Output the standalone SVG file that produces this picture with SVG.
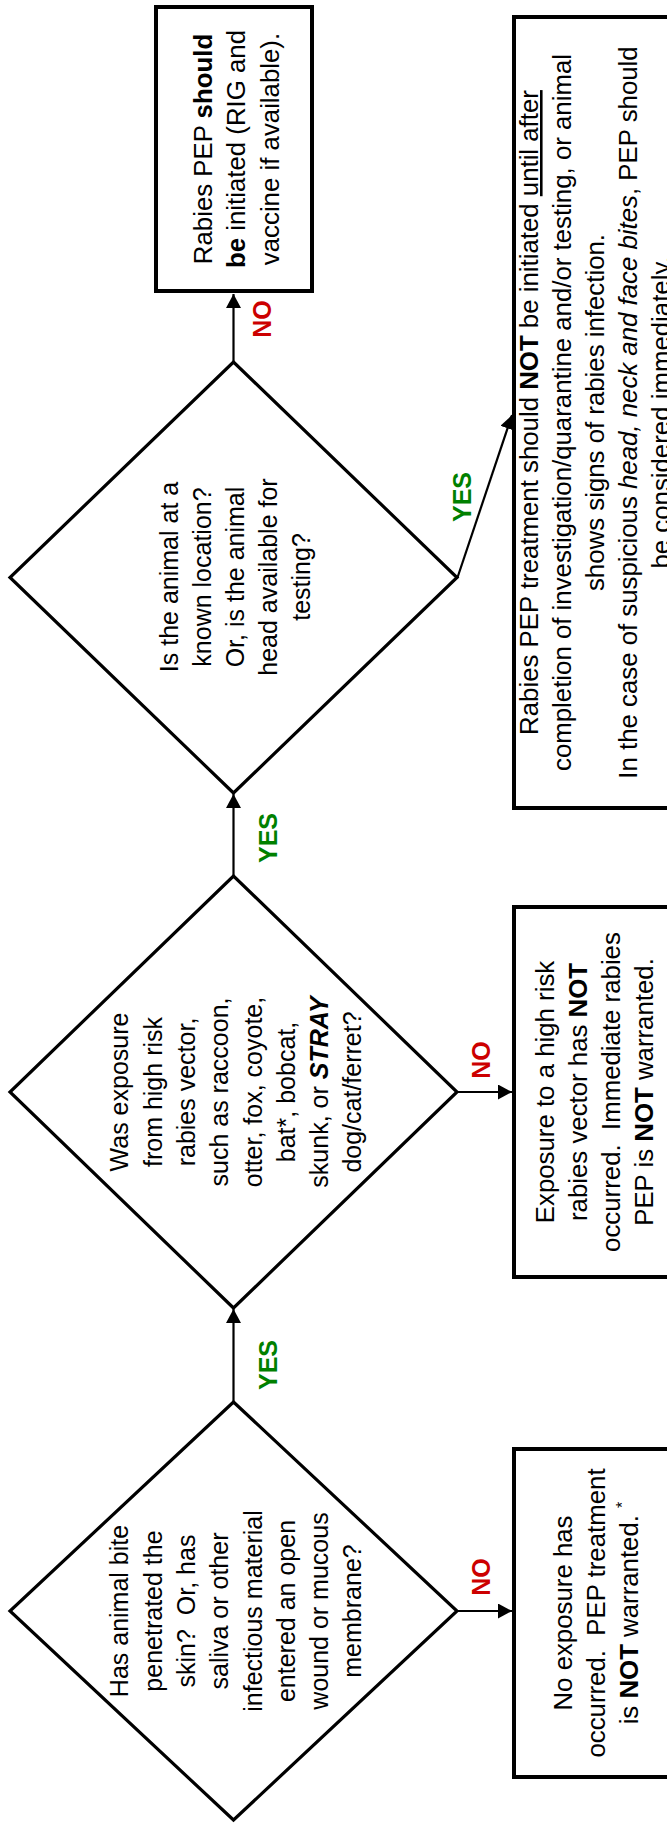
<svg xmlns="http://www.w3.org/2000/svg" width="667" height="1838" viewBox="0 0 667 1838">
<style>
text{font-family:"Liberation Sans",Arial,sans-serif;fill:#000}
.d{font-size:25px;text-anchor:middle}
.b{font-size:25.8px;text-anchor:middle}
.yes{font-size:25px;font-weight:bold;fill:#008000;text-anchor:middle}
.no{font-size:25px;font-weight:bold;fill:#cc0000;text-anchor:middle}
.bo{font-weight:bold}
.it{font-style:italic}
.dia{fill:#fff;stroke:#000;stroke-width:3.2}
.box{fill:#fff;stroke:#000;stroke-width:4}
.con{fill:none;stroke:#000;stroke-width:2.2}
</style>
<defs>
<marker id="ah" markerUnits="userSpaceOnUse" markerWidth="15" markerHeight="16" refX="14" refY="7.5" orient="auto">
<path d="M0,0 L14,7.5 L0,15 Z" fill="#000"/>
</marker>
</defs>
<rect width="667" height="1838" fill="#fff"/>
<g transform="translate(0,1838) rotate(-90)">
<g id="connectors">
<path class="con" d="M436,233.5 L529,233.5" marker-end="url(#ah)"/>
<path class="con" d="M962,233.5 L1044,233.5" marker-end="url(#ah)"/>
<path class="con" d="M1476,233.5 L1544,233.5" marker-end="url(#ah)"/>
<path class="con" d="M227,457 L227,512" marker-end="url(#ah)"/>
<path class="con" d="M746,457 L746,512" marker-end="url(#ah)"/>
<path class="con" d="M1260.5,457.5 L1423,512" marker-end="url(#ah)"/>
<text class="yes" x="473" y="276.7">YES</text>
<text class="yes" x="1000" y="276.7">YES</text>
<text class="no" x="1519" y="271">NO</text>
<text class="no" x="261" y="490">NO</text>
<text class="no" x="778" y="490">NO</text>
<text class="yes" x="1341" y="471">YES</text>
</g>
<g id="q1">
<polygon class="dia" points="18,233.5 227,10 436,233.5 227,457"/>
<text class="d" x="227" y="128.3">Has animal bite</text>
<text class="d" x="227" y="161.6">penetrated the</text>
<text class="d" x="227" y="194.9" xml:space="preserve">skin?  Or, has</text>
<text class="d" x="227" y="228.2">saliva or other</text>
<text class="d" x="227" y="261.5">infectious material</text>
<text class="d" x="227" y="294.8">entered an open</text>
<text class="d" x="227" y="328.1">wound or mucous</text>
<text class="d" x="227" y="361.4">membrane?</text>
</g>
<g id="q2">
<polygon class="dia" points="530,233.5 746,10 962,233.5 746,457"/>
<text class="d" x="746" y="128.3">Was exposure</text>
<text class="d" x="746" y="161.6">from high risk</text>
<text class="d" x="746" y="194.9">rabies vector,</text>
<text class="d" x="746" y="228.2">such as raccoon,</text>
<text class="d" x="746" y="261.5">otter, fox, coyote,</text>
<text class="d" x="746" y="294.8">bat*, bobcat,</text>
<text class="d" x="746" y="328.1">skunk, or <tspan class="bo it">STRAY</tspan></text>
<text class="d" x="746" y="361.4">dog/cat/ferret?</text>
</g>
<g id="q3">
<polygon class="dia" points="1045,233.5 1260.5,10 1476,233.5 1260.5,457"/>
<text class="d" x="1261" y="178.3">Is the animal at a</text>
<text class="d" x="1261" y="211.3">known location?</text>
<text class="d" x="1261" y="244.3">Or, is the animal</text>
<text class="d" x="1261" y="277.3">head available for</text>
<text class="d" x="1261" y="310.3">testing?</text>
</g>
<g id="pep-now">
<rect class="box" x="1547" y="156" width="284" height="156"/>
<text class="b" x="1689" y="211.5">Rabies PEP <tspan class="bo">should</tspan></text>
<text class="b" x="1689" y="245"><tspan class="bo">be</tspan> initiated (RIG and</text>
<text class="b" x="1689" y="278.5">vaccine if available).</text>
</g>
<g id="no-exposure">
<rect class="box" x="61" y="514" width="328" height="300"/>
<text class="b" x="225" y="571.7">No exposure has</text>
<text class="b" x="225" y="604.7" xml:space="preserve">occurred.  PEP treatment</text>
<text class="b" x="225" y="637.7">is <tspan class="bo">NOT</tspan> warranted. <tspan font-size="16" dy="-10">*</tspan></text>
</g>
<g id="no-high-risk">
<rect class="box" x="561" y="514" width="370" height="300"/>
<text class="b" x="746" y="554">Exposure to a high risk</text>
<text class="b" x="746" y="587">rabies vector has <tspan class="bo">NOT</tspan></text>
<text class="b" x="746" y="620" xml:space="preserve">occurred.  Immediate rabies</text>
<text class="b" x="746" y="653">PEP is <tspan class="bo">NOT</tspan> warranted.</text>
</g>
<g id="observe">
<rect class="box" x="1030" y="514" width="791" height="300"/>
<text class="b" x="1425.5" y="538">Rabies PEP treatment should <tspan class="bo">NOT</tspan> be initiated <tspan text-decoration="underline">until after</tspan></text>
<text class="b" x="1425.5" y="571">completion of investigation/quarantine and/or testing, or animal</text>
<text class="b" x="1425.5" y="604">shows signs of rabies infection.</text>
<text class="b" x="1425.5" y="637">In the case of suspicious <tspan class="it">head, neck and face bites</tspan>, PEP should</text>
<text class="b" x="1425.5" y="670">be considered immediately.</text>
</g>
</g>
</svg>
